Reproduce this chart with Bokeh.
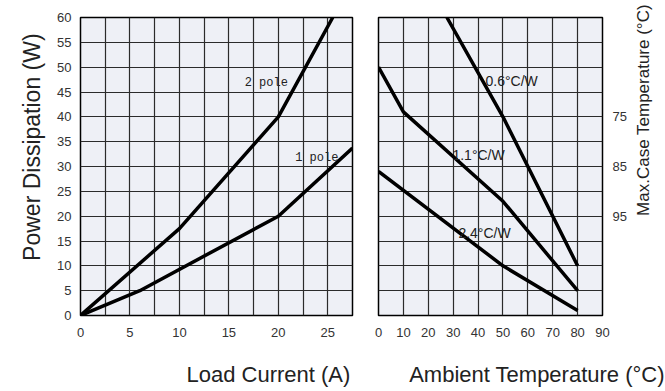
import math
from bokeh.plotting import figure
from bokeh.models import Range1d, FixedTicker, Label, LinearAxis
from bokeh.layouts import row
from bokeh.embed import file_html
from bokeh.resources import INLINE

# ---------------- data: left chart (power dissipation vs load current) ----
current_ticks = [0, 5, 10, 15, 20, 25]
current_grid = [0, 2.5, 5, 7.5, 10, 12.5, 15, 17.5, 20, 22.5, 25, 27.5]
power_ticks = [0, 5, 10, 15, 20, 25, 30, 35, 40, 45, 50, 55, 60]

pole2_current = [0, 10, 20, 25.5]
pole2_power = [0, 17.5, 40, 60]
pole1_current = [0, 6, 20, 27.5]
pole1_power = [0, 5, 20, 33.7]

# ---------------- data: right chart (power vs ambient temperature) --------
ambient_ticks = [0, 10, 20, 30, 40, 50, 60, 70, 80, 90]
r06_temp = [27.5, 50, 80]
r06_power = [60, 40, 10]
r11_temp = [0, 10, 50, 80]
r11_power = [50, 41, 23, 5]
r24_temp = [0, 50, 80]
r24_power = [29, 10, 1]
case_temp_ticks = [20, 30, 40]
case_temp_labels = ["95", "85", "75"]

FONT = "Liberation Sans"
FRAME_FILL = "#eef0f6"
GRID_COLOR = "#2b2b2b"
TEXT_COLOR = "#333333"
LABEL_COLOR = "#222222"


def style(p):
    p.background_fill_color = FRAME_FILL
    p.border_fill_color = "white"
    p.outline_line_color = "black"
    p.outline_line_width = 1.5
    for ax in p.axis:
        ax.axis_line_color = None
        ax.major_tick_line_color = None
        ax.minor_tick_line_color = None
        ax.major_label_text_font = FONT
        ax.major_label_text_font_size = "13px"
        ax.major_label_text_color = TEXT_COLOR
    for g in p.grid:
        g.grid_line_color = GRID_COLOR
        g.grid_line_width = 1.2


def title_axis(text, at, size, standoff, orientation="horizontal", line_height=1.2):
    """An extra axis whose single tick label acts as a positioned axis title."""
    return LinearAxis(ticker=FixedTicker(ticks=[at]),
                      major_label_overrides={at: text},
                      major_label_orientation=orientation,
                      major_label_standoff=standoff,
                      major_label_text_font=FONT,
                      major_label_text_font_size=size,
                      major_label_text_line_height=line_height,
                      major_label_text_color=LABEL_COLOR,
                      axis_line_color=None,
                      major_tick_line_color=None,
                      minor_tick_line_color=None,
                      major_tick_out=0, major_tick_in=0)


# ---------------- left figure ----------------
p1 = figure(width=365, height=391, x_range=Range1d(0, 27.5), y_range=Range1d(0, 60),
            output_backend="svg", toolbar_location=None,
            min_border_left=80, min_border_right=13, min_border_top=17, min_border_bottom=76)
style(p1)
p1.xaxis.ticker = FixedTicker(ticks=current_ticks)
p1.yaxis.ticker = FixedTicker(ticks=power_ticks)
p1.xgrid.ticker = FixedTicker(ticks=current_grid)
p1.ygrid.ticker = FixedTicker(ticks=power_ticks)
p1.xaxis.major_label_standoff = 6
p1.yaxis.major_label_standoff = 3

p1.line(pole2_current, pole2_power, line_color="black", line_width=3.5, line_join="round")
p1.line(pole1_current, pole1_power, line_color="black", line_width=3.5, line_join="round")

p1.add_layout(Label(x=16.6, y=46.9, text="2 pole", text_font="Liberation Mono", text_align="left",
                    text_baseline="middle", text_font_size="12px", text_color=LABEL_COLOR))
p1.add_layout(Label(x=21.7, y=31.8, text="1 pole", text_font="Liberation Mono", text_align="left",
                    text_baseline="middle", text_font_size="12px", text_color=LABEL_COLOR))

p1.add_layout(title_axis("Load Current (A)", 19.0, "22px", 22, line_height=1.0), "below")
p1.add_layout(title_axis("Power Dissipation (W)", 56.8, "23px", 22, math.pi / 2, 0.8), "left")

# ---------------- right figure ----------------
p2 = figure(width=300, height=391, x_range=Range1d(0, 90), y_range=Range1d(0, 60),
            output_backend="svg", toolbar_location=None, y_axis_location="right",
            min_border_left=13, min_border_right=63, min_border_top=17, min_border_bottom=76)
style(p2)
p2.xaxis.ticker = FixedTicker(ticks=ambient_ticks)
p2.xgrid.ticker = FixedTicker(ticks=ambient_ticks)
p2.yaxis.ticker = FixedTicker(ticks=case_temp_ticks)
p2.yaxis.major_label_overrides = {t: s for t, s in zip(case_temp_ticks, case_temp_labels)}
p2.ygrid.ticker = FixedTicker(ticks=power_ticks)
p2.xaxis.major_label_standoff = 6
p2.yaxis.major_label_standoff = 4

for tx, py in ((r06_temp, r06_power), (r11_temp, r11_power), (r24_temp, r24_power)):
    p2.line(tx, py, line_color="black", line_width=3.5, line_join="round")

for x, y, t in ((43.0, 47.3, "0.6°C/W"), (29.7, 32.4, "1.1°C/W"), (32.1, 16.7, "2.4°C/W")):
    p2.add_layout(Label(x=x, y=y, text=t, text_font=FONT, text_font_size="14px",
                        text_align="left", text_baseline="middle", text_color=LABEL_COLOR))

p2.add_layout(title_axis("Ambient Temperature (°C)", 63.7, "22px", 22, line_height=1.0), "below")
p2.add_layout(title_axis("Max.Case Temperature (°C)", 21.5, "17px", 14, math.pi / 2, 0.8), "right")

layout = row(p1, p2)
open("out.html", "w").write(file_html(layout, INLINE))
